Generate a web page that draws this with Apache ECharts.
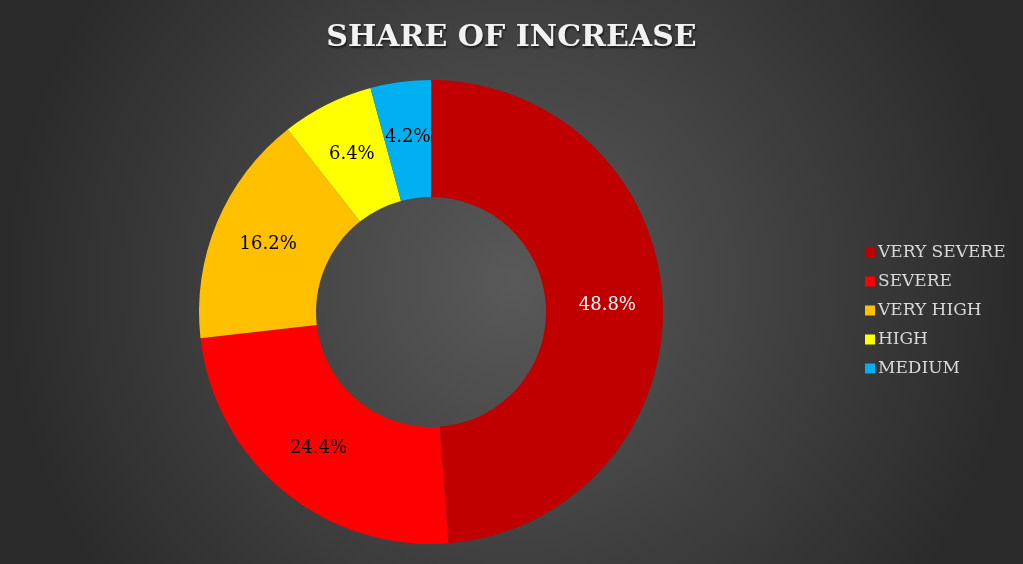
<!DOCTYPE html>
<html lang="en">
<head>
<meta charset="UTF-8">
<title>Share of Increase</title>
<script src="https://cdn.jsdelivr.net/npm/echarts@6/dist/echarts.min.js"></script>
<style>
html, body { margin: 0; padding: 0; }
#chart { width: 1023px; height: 564px; }
</style>
</head>
<body>
<div id="chart"></div>
<script>
// categories and shares (%)
var categories = ['Very Severe', 'Severe', 'Very high', 'High', 'Medium'];
var shares = [48.8, 24.4, 16.2, 6.4, 4.2];
var colors = ['#C00000', '#FF0000', '#FFC000', '#FFFF00', '#00B0F0'];
var labelColors = ['#ffffff', '#000000', '#000000', '#000000', '#000000'];

var chart = echarts.init(document.getElementById('chart'));

var pieData = categories.map(function (name, i) {
  return {
    name: name,
    value: shares[i],
    itemStyle: { color: colors[i] },
    label: { color: labelColors[i] }
  };
});

var option = {
  backgroundColor: {
    type: 'radial', x: 0.5, y: 0.5, r: 0.9,
    colorStops: [
      { offset: 0, color: '#595959' },
      { offset: 1, color: '#2b2b2b' }
    ]
  },
  title: {
    text: 'SHARE OF INCREASE',
    left: 'center',
    top: 18,
    textStyle: {
      fontFamily: 'DejaVu Serif',
      fontWeight: 'bold',
      fontSize: 30,
      color: '#f2f2f2',
      textShadowColor: 'rgba(0,0,0,0.6)',
      textShadowBlur: 2,
      textShadowOffsetX: 1,
      textShadowOffsetY: 2
    }
  },
  legend: {
    orient: 'vertical',
    left: 860,
    top: 239,
    itemWidth: 10,
    itemHeight: 10,
    itemGap: 12,
    icon: 'rect',
    textStyle: {
      fontFamily: 'DejaVu Serif',
      fontSize: 17,
      lineHeight: 17,
      color: '#d9d9d9',
      padding: [0, 0, 0, -2]
    },
    formatter: function (name) { return name.toUpperCase(); }
  },
  series: [{
    type: 'pie',
    center: [431, 312],
    radius: [115, 232],
    startAngle: 90,
    clockwise: true,
    avoidLabelOverlap: false,
    label: {
      show: true,
      position: 'inside',
      fontFamily: 'DejaVu Serif',
      fontSize: 18,
      formatter: function (p) { return p.value.toFixed(1) + '%'; }
    },
    labelLine: { show: false },
    emphasis: { scale: false },
    data: pieData
  }]
};

chart.setOption(option);
</script>
</body>
</html>
